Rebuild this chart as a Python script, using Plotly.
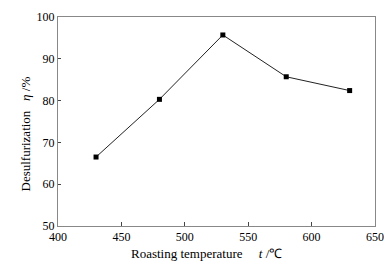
import plotly.graph_objects as go

temperature = [430, 480, 530, 580, 630]
desulfurization = [66.5, 80.3, 95.7, 85.7, 82.4]
x_ticks = [400, 450, 500, 550, 600, 650]
y_ticks = [50, 60, 70, 80, 90, 100]

fig = go.Figure()
fig.add_trace(go.Scatter(
    x=temperature, y=desulfurization, mode="lines+markers",
    line=dict(color="#222", width=1),
    marker=dict(symbol="square", size=5, color="black"),
    showlegend=False,
))

font = dict(family="Liberation Serif, Times New Roman, serif", size=12, color="black")
tfont = dict(family="Liberation Serif, Times New Roman, serif", size=13, color="black")
# page body has an 8px margin, so the figure is sized to fit the 392x265 window
fig.update_layout(
    width=384, height=257,
    margin=dict(l=50, r=17, t=9, b=39, autoexpand=False),
    paper_bgcolor="white", plot_bgcolor="white",
    font=font,
)
fig.update_xaxes(
    range=[400, 650], tickvals=x_ticks, ticks="inside", ticklen=4,
    tickcolor="#444", showline=True, linecolor="#888", linewidth=1, mirror=True,
    showgrid=False, zeroline=False, automargin=False,
)
fig.update_yaxes(
    range=[50, 100], tickvals=y_ticks, ticks="inside", ticklen=3,
    tickcolor="#444", showline=True, linecolor="#888", linewidth=1, mirror=True,
    showgrid=False, zeroline=False, automargin=False,
)
fig.add_annotation(
    text="Roasting temperature&nbsp;&nbsp;&nbsp;&nbsp;&nbsp;<i>t</i> /℃",
    xref="paper", yref="paper", x=(206 - 58) / 317, y=-(253 - 226) / 209,
    showarrow=False, xanchor="center", yanchor="middle", font=tfont,
)
fig.add_annotation(
    text="Desulfurization&nbsp;&nbsp;&nbsp;<i>η</i> /%",
    xref="paper", yref="paper", x=-(58 - 25.5) / 317, y=(226 - 134) / 209,
    showarrow=False, xanchor="center", yanchor="middle", textangle=-90, font=tfont,
)
fig.write_html("out.html")
